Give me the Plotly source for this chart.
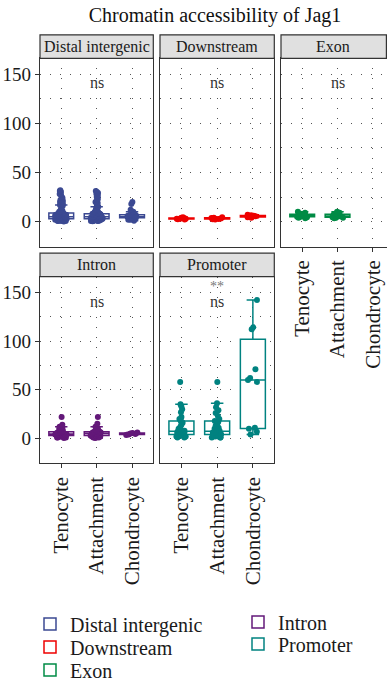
import plotly.graph_objects as go

# ---------------- data ----------------
categories = ["Tenocyte", "Attachment", "Chondrocyte"]
regions = ["Distal intergenic", "Downstream", "Exon", "Intron", "Promoter"]
colors = ["#3B4992", "#EE0000", "#008B45", "#631879", "#008280"]

distal_tenocyte = [32, 31, 30, 28, 27, 25, 24, 22, 21, 20, 18, 17, 16, 14, 12, 11, 10, 10, 9, 9, 9,
                   8, 8, 8, 8, 8, 7, 7, 7, 7, 7, 7, 7, 6, 6, 6, 6, 6, 6, 6, 6, 5, 5, 5, 5, 5, 5, 5, 5, 5,
                   4, 4, 4, 4, 4, 4, 4, 4, 4, 4, 3, 3, 3, 3, 3, 3, 3, 3, 2, 2, 2, 2, 2, 2, 2,
                   1, 1, 1, 1, 1, 0.5, 0.5, 0.2]
distal_attachment = [31, 30, 29, 28, 26, 25, 23, 22, 20, 19, 17, 15, 13, 12, 11, 10, 10, 9, 9, 9,
                     8, 8, 8, 8, 8, 7, 7, 7, 7, 7, 7, 7, 6, 6, 6, 6, 6, 6, 6, 6, 5, 5, 5, 5, 5, 5, 5, 5, 5,
                     4, 4, 4, 4, 4, 4, 4, 4, 4, 4, 3, 3, 3, 3, 3, 3, 3, 3, 2, 2, 2, 2, 2, 2, 2,
                     1, 1, 1, 1, 1, 0.5, 0.5, 0.3]
distal_chondrocyte = [20, 18, 12, 10, 9, 8, 7, 7, 6, 6, 6, 6, 5, 5, 5, 5, 5, 4, 4, 4, 4, 3, 3, 3, 2, 2, 1]

downstream_tenocyte = [4.5, 4, 3.5, 3, 3, 2.8, 2.5, 2.2]
downstream_attachment = [4.5, 4, 3.6, 3.2, 3, 2.7, 2.4, 2.1]
downstream_chondrocyte = [7, 6.5, 6, 5.5, 5.2, 5, 4.5, 4]

exon_tenocyte = [10, 9, 8, 7.5, 7, 6.5, 6, 6, 5.5, 5, 5, 4.5, 4, 3.5]
exon_attachment = [10, 9, 8.5, 7.5, 7, 6.5, 6, 5.5, 5.5, 5, 4.5, 4, 4, 3.5]
exon_chondrocyte = []

intron_tenocyte = [22, 14, 12, 11, 10, 9, 8, 8, 7, 7, 6, 6, 6, 5, 5, 5, 5, 4, 4, 4, 4, 4,
                   3, 3, 3, 3, 2, 2, 2, 2, 1, 1, 1, 0.5]
intron_attachment = [22, 15, 12, 10, 9, 8, 8, 7, 7, 6, 6, 6, 5, 5, 5, 5, 4, 4, 4, 4,
                     3, 3, 3, 3, 2, 2, 2, 1, 1, 1, 0.5]
intron_chondrocyte = [6, 5.5, 5, 4.5, 4, 3.5]

promoter_tenocyte = [58, 35, 33, 30, 27, 22, 20, 18, 17, 16, 14, 12, 10, 9, 8, 7, 7, 6, 6,
                     5, 5, 4, 4, 3, 3, 3, 2, 2, 1, 1]
promoter_attachment = [58, 36, 32, 29, 26, 23, 20, 18, 17, 15, 13, 11, 10, 9, 8, 7, 6, 6,
                       5, 5, 4, 4, 4, 3, 3, 2, 2, 1, 1, 1]
promoter_chondrocyte = [142, 114, 112, 71, 62, 60, 58, 11, 10, 7, 4]

region_values = {
    "Distal intergenic": [distal_tenocyte, distal_attachment, distal_chondrocyte],
    "Downstream": [downstream_tenocyte, downstream_attachment, downstream_chondrocyte],
    "Exon": [exon_tenocyte, exon_attachment, exon_chondrocyte],
    "Intron": [intron_tenocyte, intron_attachment, intron_chondrocyte],
    "Promoter": [promoter_tenocyte, promoter_attachment, promoter_chondrocyte],
}
significance = {
    "Distal intergenic": ["ns"],
    "Downstream": ["ns"],
    "Exon": ["ns"],
    "Intron": ["ns"],
    "Promoter": ["ns", "**"],
}
y_ticks = [0, 50, 100, 150]
title = "Chromatin accessibility of Jag1"

# ---------------- layout geometry (pixels) ----------------
W, H = 387, 682
FONT = "Liberation Serif, DejaVu Serif, serif"
# panel: (left, right, top, bottom, x_range_end, show_x_labels, show_y_labels, strip_center)
panels = {
    "Distal intergenic": (40, 153.3, 58.3, 246.7, 2.6, False, True, 96.7),
    "Downstream": (160, 274.3, 58.3, 246.7, 2.6, False, False, 217.2),
    "Exon": (281, 387, 58.3, 246.7, 2.4, True, False, 333),
    "Intron": (40, 153.3, 276.7, 463.3, 2.6, True, True, 96.7),
    "Promoter": (160, 274.3, 276.7, 463.3, 2.6, True, False, 217.2),
}
# legend entry centres (text-left x is ~40px right of legend x)
legend_pos = {
    "Distal intergenic": (30, 624),
    "Downstream": (30, 647),
    "Exon": (30, 670),
    "Intron": (238, 622),
    "Promoter": (238, 644),
}
STRIP_H = 23.5
Y_RANGE = [-25.5, 166]
GRID = dict(gridcolor="#555555", gridwidth=1, griddash="1px,9px")

fig = go.Figure()
layout = dict(
    width=W, height=H,
    margin=dict(l=0, r=0, t=0, b=0, autoexpand=False),
    paper_bgcolor="white", plot_bgcolor="white",
    font=dict(family=FONT, color="#1a1a1a"),
    showlegend=True,
)
shapes, annotations = [], []

for i, region in enumerate(regions):
    n = "" if i == 0 else str(i + 1)
    xa, ya = "xaxis" + n, "yaxis" + n
    xr, yr = "x" + n, "y" + n
    left, right, top, bottom, xend, show_x, show_y, strip_c = panels[region]
    dom_x = [left / W, right / W]
    dom_y = [1 - bottom / H, 1 - top / H]

    xs, ys = [], []
    for ci, vals in enumerate(region_values[region]):
        xs += [ci] * len(vals)
        ys += list(vals)

    lg = "legend" + n
    fig.add_trace(go.Box(
        x=xs, y=ys, name=region, xaxis=xr, yaxis=yr,
        boxpoints="all", jitter=0.5, pointpos=0, width=0.7, whiskerwidth=0.5,
        line=dict(color=colors[i], width=1.5), fillcolor="white",
        marker=dict(color=colors[i], size=6, opacity=1),
        legend=lg, hoverinfo="skip",
    ))
    lx, ly = legend_pos[region]
    layout[lg] = dict(x=lx / W, y=1 - ly / H, xanchor="left", yanchor="middle",
                      font=dict(family=FONT, size=20, color="#1a1a1a"),
                      bgcolor="rgba(0,0,0,0)", borderwidth=0)

    layout[xa] = dict(
        domain=dom_x, anchor=yr, range=[-0.6, xend], automargin=False,
        tickmode="array", tickvals=list(range(len(categories))), ticktext=categories,
        showticklabels=show_x, ticks="outside" if show_x else "", ticklen=4,
        tickcolor="#333333", tickangle=-90,
        tickfont=dict(family=FONT, size=21, color="#1a1a1a"),
        showgrid=True, zeroline=False,
        showline=True, mirror=True, linecolor="#333333", linewidth=1.2,
        **GRID,
    )
    layout[ya] = dict(
        domain=dom_y, anchor=xr, range=Y_RANGE, automargin=False,
        tickmode="array", tickvals=y_ticks,
        showticklabels=show_y, ticks="outside" if show_y else "", ticklen=4,
        tickcolor="#333333",
        tickfont=dict(family=FONT, size=19, color="#1a1a1a"),
        showgrid=True, zeroline=False,
        showline=True, mirror=True, linecolor="#333333", linewidth=1.2,
        minor=dict(tick0=0, dtick=25, showgrid=True, ticks="", **GRID),
        **GRID,
    )

    # strip
    shapes.append(dict(type="rect", xref="paper", yref="paper",
                       x0=left / W, x1=min(right, W - 0.6) / W,
                       y0=1 - top / H, y1=1 - (top - STRIP_H) / H,
                       fillcolor="#E0E0E0", line=dict(color="#333333", width=1.2)))
    annotations.append(dict(text=region, xref="paper", yref="paper",
                            x=strip_c / W, y=1 - (top - STRIP_H / 2) / H,
                            xanchor="center", yanchor="middle", showarrow=False,
                            font=dict(family=FONT, size=16, color="#1a1a1a")))
    # significance labels
    for k, lab in enumerate(significance[region]):
        annotations.append(dict(text=lab, xref=xr, yref=yr, x=1,
                                y=141 + 15 * k, xanchor="center", yanchor="middle",
                                showarrow=False,
                                font=dict(family=FONT, size=16 if k == 0 else 14,
                                          color="#333333" if k == 0 else "#777777")))

layout["shapes"] = shapes
layout["annotations"] = annotations
layout["title"] = dict(text=title, x=215 / W, xanchor="center", y=1 - 15 / H,
                       yanchor="middle", font=dict(family=FONT, size=20, color="#111111"))

fig.update_layout(**layout)
fig.write_html("out.html")
